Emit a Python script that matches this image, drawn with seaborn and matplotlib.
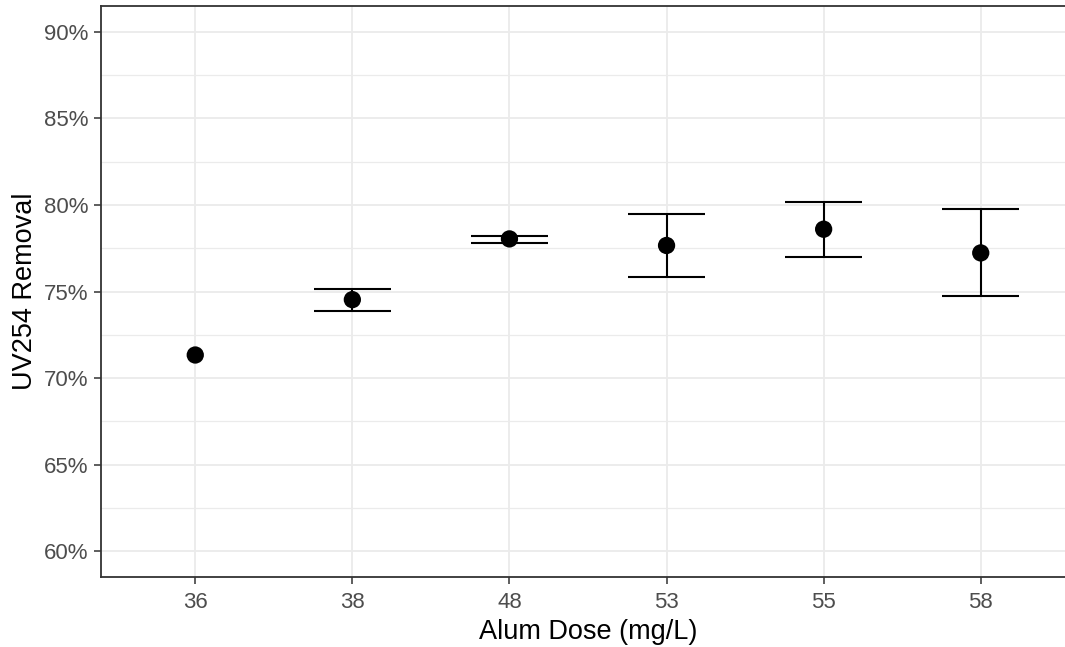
import numpy as np
import pandas as pd
import matplotlib
matplotlib.use('Agg')
import matplotlib.pyplot as plt
import seaborn as sns
from matplotlib.ticker import FuncFormatter, MultipleLocator

# DATA
doses     = ['36', '38', '48', '53', '55', '58']
removal   = [71.33, 74.53, 78.04, 77.66, 78.60, 77.23]
err_low   = [np.nan, 73.90, 77.81, 75.81, 76.98, 74.72]
err_high  = [np.nan, 75.17, 78.19, 79.46, 80.20, 79.76]

df = pd.DataFrame({'Dose': doses, 'Removal': removal,
                   'Low': err_low, 'High': err_high})
df['pos'] = np.arange(len(df))

sns.set_style('white')
plt.rcParams['font.family'] = ['Liberation Sans', 'DejaVu Sans']

fig = plt.figure(figsize=(10.65, 6.47), dpi=100)
ax = fig.add_axes([101 / 1065, 70 / 647, 974 / 1065, 571 / 647])

# error bars (ggplot style, width 0.5)
eb = df.dropna(subset=['Low', 'High'])
ax.vlines(eb['pos'], eb['Low'], eb['High'], color='black', linewidth=1.5, zorder=3)
ax.hlines(eb['Low'], eb['pos'] - 0.245, eb['pos'] + 0.245, color='black', linewidth=1.5, zorder=3)
ax.hlines(eb['High'], eb['pos'] - 0.245, eb['pos'] + 0.245, color='black', linewidth=1.5, zorder=3)

sns.scatterplot(data=df, x='pos', y='Removal', color='black', s=155,
                edgecolor='none', ax=ax, zorder=4)

ax.set_xlim(-0.6, len(doses) - 0.4)
ax.set_ylim(58.5, 91.5)
ax.set_xticks(df['pos'])
ax.set_xticklabels(doses)
ax.yaxis.set_major_locator(MultipleLocator(5))
ax.yaxis.set_minor_locator(MultipleLocator(2.5))
ax.yaxis.set_major_formatter(FuncFormatter(lambda v, _: f'{v:.0f}%'))

ax.grid(which='major', axis='both', color='#EBEBEB', linewidth=1.3, zorder=0)
ax.grid(which='minor', axis='y', color='#EBEBEB', linewidth=0.9, zorder=0)
ax.set_axisbelow(True)

for side in ['left', 'bottom', 'top', 'right']:
    ax.spines[side].set_color('#333333')
    ax.spines[side].set_linewidth(1.3)

ax.tick_params(axis='both', which='major', length=5, width=1.1, color='#333333',
               labelcolor='#4D4D4D', labelsize=16, pad=4, left=True, bottom=True)
ax.tick_params(axis='x', which='major', pad=6)
ax.tick_params(axis='y', which='minor', length=0)

ax.set_xlabel('Alum Dose (mg/L)', fontsize=19.5, color='black', labelpad=4)
ax.set_ylabel('UV254 Removal', fontsize=19.5, color='black', labelpad=4)

fig.savefig('out.png', dpi=100)
plt.close()
